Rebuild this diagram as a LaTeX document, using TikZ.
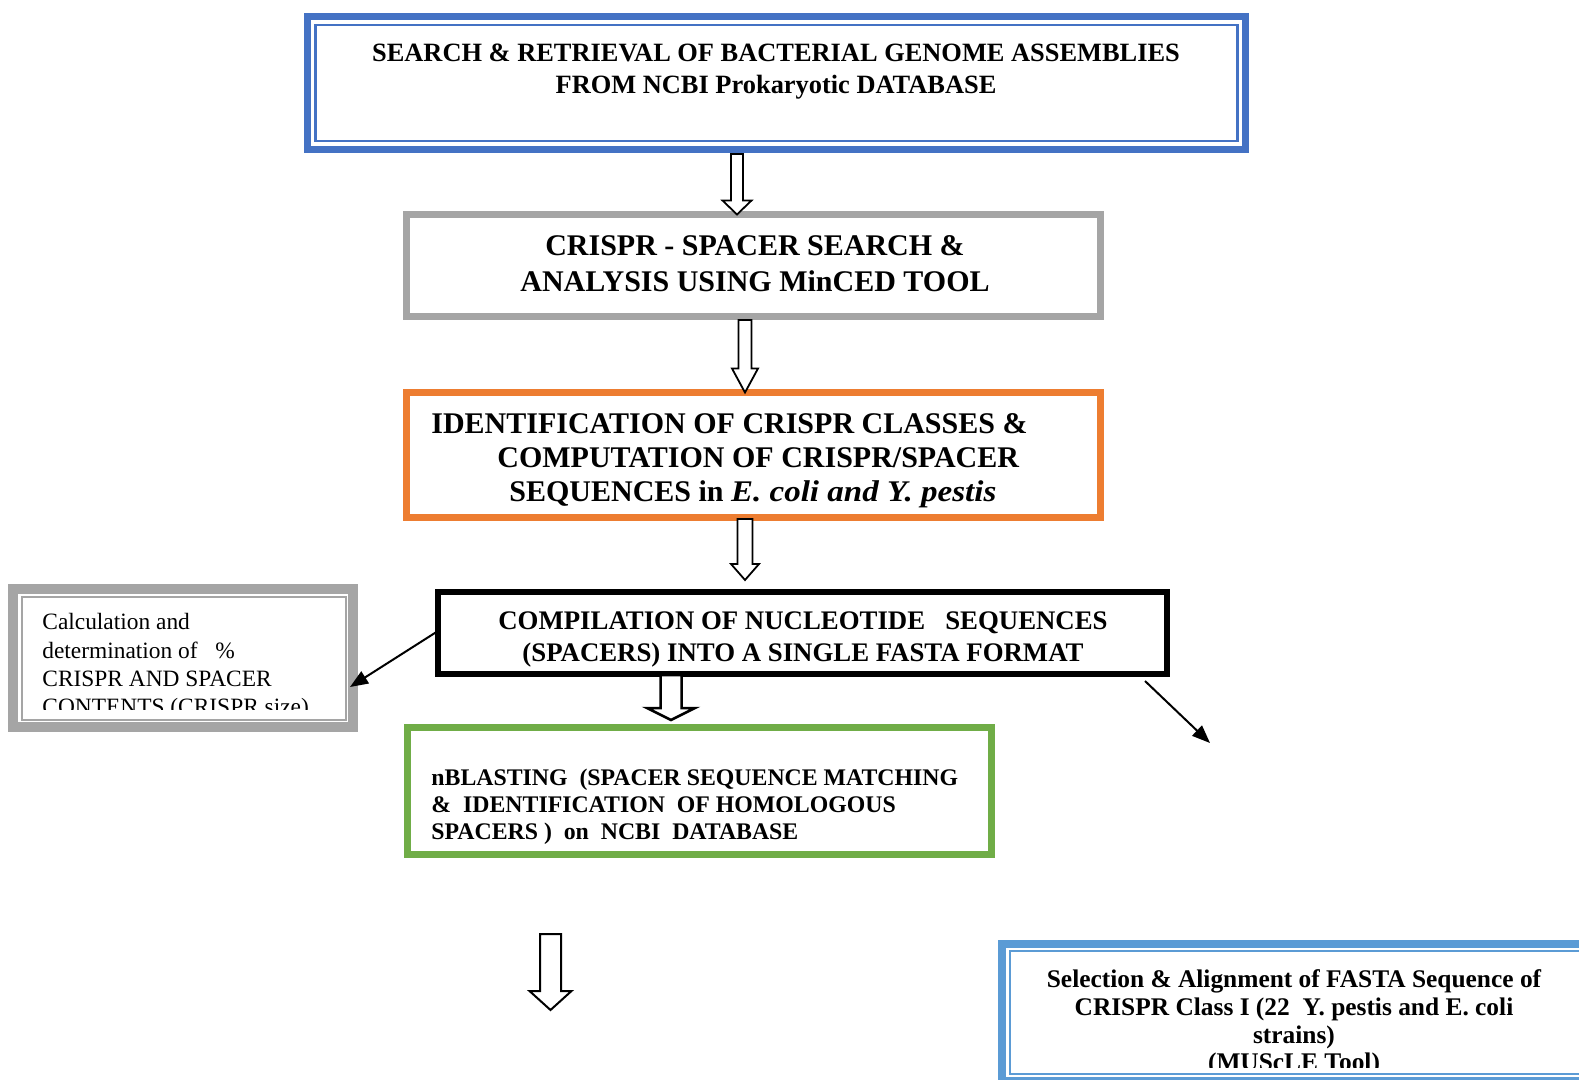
\documentclass[tikz,border=0pt]{standalone}
\usepackage{fontspec}
\usepackage{graphicx}
\setmainfont{Liberation Serif}
\usetikzlibrary{fit,calc,arrows.meta}
\definecolor{cblue}{HTML}{4472C4}
\definecolor{cgray}{HTML}{A5A5A5}
\definecolor{corange}{HTML}{ED7D31}
\definecolor{cgreen}{HTML}{70AD47}
\definecolor{clblue}{HTML}{5B9BD5}
\newcommand\blockarrow[6]{%
  \draw[harrow, line width=#6] let \p1=#1, \p2=#2 in
    (\x1-#3,\y1) -- (\x1+#3,\y1) -- (\x1+#3,\y2+#5) -- (\x1+#4,\y2+#5) --
    (\x1,\y2) -- (\x1-#4,\y2+#5) -- (\x1-#3,\y2+#5) -- cycle;}
\tikzset{
  frame/.style={draw, inner sep=0pt, outer sep=0pt, line join=miter},
  innerline/.style={line width=1.2pt, line join=miter},
  txt/.style={inner sep=0pt, align=center},
  harrow/.style={draw=black, fill=white, line join=miter},
  thinarrow/.style={line width=1pt, -{Triangle[length=9pt,width=7pt]}},
}
\begin{document}
\begin{tikzpicture}[x=0.5pt,y=-0.5pt]
\useasboundingbox (0,0) rectangle (1579,1080);
\clip (0,0) rectangle (1579,1080);

% Box 1
\node[frame, draw=cblue, line width=3.5pt, fit={(307.5,16.5) (1245.5,149.5)}] (b1) {};
\draw[innerline, cblue] ($(b1.north west)+(8,8.5)$) rectangle ($(b1.south east)+(-8,-8.5)$);
\node[txt, font=\fontsize{13.2pt}{15.6pt}\selectfont\bfseries] (t1) at (776,71.5)
  {SEARCH \& RETRIEVAL OF BACTERIAL GENOME ASSEMBLIES\\FROM NCBI Prokaryotic DATABASE};

% Box 2
\node[frame, draw=cgray, line width=3.5pt, fit={(406.5,214.5) (1100.5,316.5)}] (b2) {};
\node[txt, font=\fontsize{15pt}{18pt}\selectfont\bfseries] (t2) at (755,264)
  {CRISPR - SPACER SEARCH \&\\ANALYSIS USING MinCED TOOL};

% Box 3
\node[frame, draw=corange, line width=3.5pt, fit={(406.5,392.5) (1100.5,517.5)}] (b3) {};
\node[txt, align=left, anchor=west, font=\fontsize{15pt}{17.1pt}\selectfont\bfseries] (t3) at (431,461)
  {IDENTIFICATION OF CRISPR CLASSES \&\\
   \hspace*{33pt}COMPUTATION OF CRISPR/SPACER\\
   \hspace*{39pt}SEQUENCES in \scalebox{1.1}[1]{\textit{E. coli and Y. pestis}}};

% Box 4
\node[frame, draw=black, line width=3pt, fit={(438,592) (1167,674)}] (b4) {};
\node[txt, font=\fontsize{13.4pt}{15.6pt}\selectfont\bfseries] (t4) at (803,639.5)
  {COMPILATION OF NUCLEOTIDE\ \ \ SEQUENCES\\(SPACERS) INTO A SINGLE FASTA FORMAT};

% Box 5
\node[frame, draw=cgray, line width=5pt, fit={(13,589) (353,727)}] (b5) {};
\draw[innerline, cgray, line width=1pt] ($(b5.north west)+(9,8)$) rectangle ($(b5.south east)+(-7,-7)$);
\begin{scope}
\clip (22,597) rectangle (346,709);
\node[txt, align=left, anchor=west, font=\fontsize{11.7pt}{14.1pt}\selectfont] (t5) at (42,666.5)
  {Calculation and\\determination of\ \ \ \%\\CRISPR AND SPACER\\CONTENTS (CRISPR size)};
\end{scope}

% Box 6
\node[frame, draw=cgreen, line width=3.5pt, fit={(407.5,727.5) (991.5,854.5)}] (b6) {};
\node[txt, align=left, anchor=west, font=\fontsize{11.9pt}{13.6pt}\selectfont\bfseries] (t6) at (431,806.5)
  {nBLASTING\ \ (SPACER SEQUENCE MATCHING\\
   \&\ \ IDENTIFICATION\ \ OF HOMOLOGOUS\\
   SPACERS )\ \ on\ \ NCBI\ \ DATABASE};

% Box 7
\node[frame, draw=clblue, line width=4pt, fit={(1002,944) (1600,1081)}] (b7) {};
\draw[innerline, clblue, line width=1pt] ($(b7.north west)+(8,7)$) rectangle ($(b7.south east)+(-8,-7)$);
\begin{scope}
\clip (1010,951) rectangle (1579,1067);
\node[txt, font=\fontsize{12.7pt}{13.9pt}\selectfont\bfseries] (t7) at (1294,1023)
  {Selection \& Alignment of FASTA Sequence of\\CRISPR Class I (22\ \ Y. pestis and E. coli\\strains)\\(MUScLE Tool)};
\end{scope}

% hollow block arrows
\blockarrow{([xshift=-19.75pt,yshift=-2.25pt]b1.south)}{([xshift=-8.25pt]b2.north)}{3pt}{7.25pt}{7pt}{0.9pt}
\blockarrow{([xshift=-4.25pt,yshift=-1.75pt]b2.south)}{([xshift=-4.25pt]b3.north)}{3.25pt}{6.5pt}{12pt}{0.9pt}
\blockarrow{([xshift=-4.25pt,yshift=-0.75pt]b3.south)}{([xshift=-28.75pt,yshift=6pt]b4.north)}{3.75pt}{7pt}{8pt}{0.9pt}
\blockarrow{([xshift=-65.75pt,yshift=-0.5pt]b4.south)}{([xshift=-14.25pt,yshift=3.75pt]b6.north)}{5.25pt}{12pt}{6pt}{1.25pt}
\coordinate (a5s) at (550.5,934);
\coordinate (a5e) at (550.5,1010);
\blockarrow{(a5s)}{(a5e)}{5.25pt}{10.5pt}{9.5pt}{1pt}

% thin arrows
\draw[thinarrow] ([yshift=1pt]b4.west) -- ([xshift=-1.5pt,yshift=-14.5pt]b5.east);
\coordinate (e1) at (1210,743);
\draw[thinarrow] ([xshift=-11pt,yshift=-3.5pt]b4.south east) -- (e1);
\end{tikzpicture}
\end{document}
